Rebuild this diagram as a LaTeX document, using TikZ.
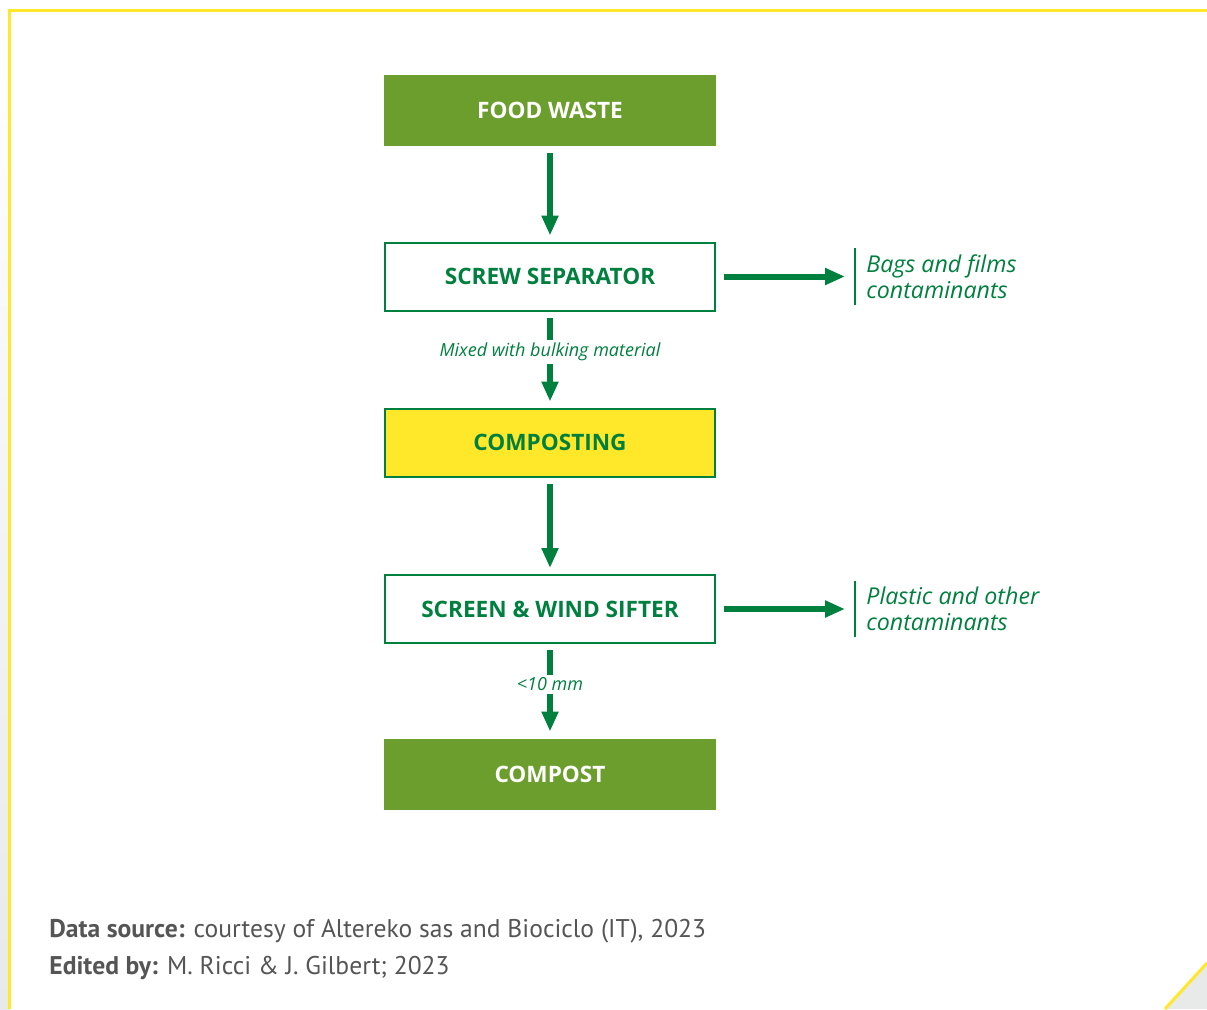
\documentclass[tikz,border=0pt]{standalone}
\usepackage{fontspec}
\setmainfont{Open Sans}
\newfontfamily\notefont{PT Sans}
\usetikzlibrary{arrows.meta}

\definecolor{darkgreen}{HTML}{00803F}
\definecolor{leafgreen}{HTML}{6C9E2E}
\definecolor{signyellow}{HTML}{FFE82A}
\definecolor{notegray}{HTML}{555555}
\definecolor{edgegray}{HTML}{E8E9E9}

\tikzset{
  stage/.style={rectangle, minimum width=165pt, minimum height=34pt, line width=1pt,
    font=\bfseries\fontsize{11.3}{13}\selectfont},
  endstage/.style={stage, minimum width=166pt, minimum height=35.5pt, fill=leafgreen, text=white},
  midstage/.style={stage, draw=darkgreen, fill=white, text=darkgreen},
  flow/.style={darkgreen, line width=3pt, -{Triangle[length=10pt,width=8pt]},
    shorten <=3pt, shorten >=3pt},
  flowlabel/.style={fill=white, text=darkgreen, inner sep=1.5pt,
    font=\itshape\fontsize{9}{10}\selectfont},
  reject/.style={anchor=west, align=left, text=darkgreen, inner xsep=5.5pt, inner ysep=3pt,
    font=\itshape\fontsize{11.6}{13}\selectfont},
  rejectbar/.style={darkgreen, line width=1pt},
  note/.style={anchor=base west, inner sep=0pt, text=notegray,
    font=\notefont\fontsize{12.8}{15}\selectfont}
}

\begin{document}
\begin{tikzpicture}[x=0.5pt,y=-0.5pt]
\useasboundingbox (0,0) rectangle (1207,1009);
% panel
\fill[white] (0,0) rectangle (1207,1009);
\shade[top color=white, bottom color=edgegray] (0,10) rectangle (9.5,1009);
\fill[edgegray] (1165,1009) -- (1207,963) -- (1207,1009) -- cycle;
\draw[signyellow, line width=1.5pt] (9.5,1009) -- (9.5,10) -- (1207,10);
\draw[signyellow, line width=1.5pt] (1165,1009) -- (1207,963);

\node[endstage] (food) at (550,110.5) {FOOD WASTE};
\node[midstage] (screw) at (550,276.5) {SCREW SEPARATOR};
\node[midstage, fill=signyellow] (composting) at (550,442.5) {COMPOSTING};
\node[midstage] (sifter) at (550,609) {SCREEN \& WIND SIFTER};
\node[endstage] (compost) at (550,774) {COMPOST};

\node[reject] (bags) at (855,276.5) {Bags and films\\contaminants};
\node[reject] (plastic) at (855,609) {Plastic and other\\contaminants};

\draw[flow] (food) -- (screw);
\draw[flow] (screw) -- node[flowlabel, pos=0.42] {Mixed with bulking material} (composting);
\draw[flow] (composting) -- (sifter);
\draw[flow] (sifter) -- node[flowlabel, pos=0.43] {<10 mm} (compost);
\draw[flow, shorten <=4pt, shorten >=5pt] (screw) -- (bags);
\draw[flow, shorten <=4pt, shorten >=5pt] (sifter) -- (plastic);
\draw[rejectbar] (bags.north west) -- (bags.south west);
\draw[rejectbar] (plastic.north west) -- (plastic.south west);

\node[note] (source) at (49,937) {\textbf{Data source:} courtesy of Altereko sas and Biociclo (IT), 2023};
\node[note] (editor) at (49,974) {\textbf{Edited by:} M. Ricci \& J. Gilbert; 2023};
\end{tikzpicture}
\end{document}
